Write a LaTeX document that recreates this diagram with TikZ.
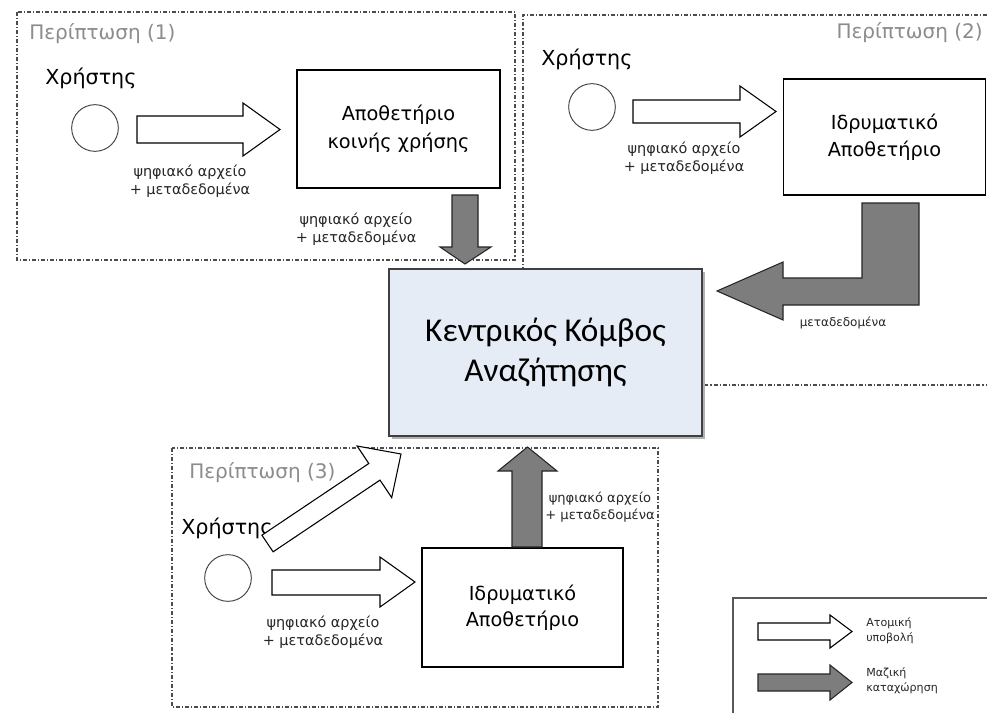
\documentclass[tikz,border=0pt]{standalone}
\usepackage{fontspec}
\setmainfont{DejaVu Sans}
\newfontfamily\cfont{Carlito}
\definecolor{hubfill}{RGB}{230,236,246}
\definecolor{arrgray}{RGB}{125,125,125}
\begin{document}
\begin{tikzpicture}[x=0.75pt,y=-0.75pt,
  casebox/.style={draw=black!70, line width=0.8pt, dash pattern=on 3pt off 1.5pt on 0.8pt off 1.5pt},
  casetitle/.style={text=black!45, font=\fontsize{15}{18}\selectfont, inner sep=0},
  user/.style={font=\fontsize{15.5}{18}\selectfont, inner sep=0},
  person/.style={circle, draw=black!75, line width=0.7pt, minimum size=35pt, inner sep=0},
  repo/.style={draw=black, line width=1pt, fill=white, align=center, font=\fontsize{14.5}{21}\selectfont},
  central/.style={draw=black!75, line width=1pt, fill=hubfill, align=center, font=\cfont\fontsize{25}{29.5}\selectfont},
  lbl/.style={align=center, font=\fontsize{10.8}{13.5}\selectfont, text=black!85, inner sep=0},
  legtext/.style={align=left, anchor=west, font=\fontsize{8.3}{11.5}\selectfont, text=black!85, inner sep=0},
  warrow/.style={draw=black, line width=0.8pt, fill=white, line join=miter},
  garrow/.style={draw=black!85, line width=0.8pt, fill=arrgray, line join=miter}
]
\useasboundingbox (0,0) rectangle (987,713);
\fill[white] (0,0) rectangle (987,713);

% case frames
\draw[casebox] (17,12) rectangle (515,260);
\draw[casebox] (987,15) -- (523,15) -- (523,385) -- (987,385);
\draw[casebox] (172,448) rectangle (658,707);

% central node
\fill[black!30] (392,272) rectangle (705,439);
\node[central, minimum width=234.75pt, minimum height=125.25pt] (hub) at (545.5,352.5) {Κεντρικός Κόμβος\\Αναζήτησης};

% titles and users
\node[casetitle, anchor=west] (t1) at (29,34) {Περίπτωση (1)};
\node[casetitle, anchor=east] (t2) at (983,33) {Περίπτωση (2)};
\node[casetitle, anchor=west] (t3) at (189,473) {Περίπτωση (3)};
\node[user, anchor=west] (x1) at (45,78) {Χρήστης};
\node[user, anchor=west] (x2) at (541,59) {Χρήστης};
\node[user, anchor=west] (x3) at (181,528) {Χρήστης};

\node[person] (u1) at (95,128) {};
\node[person] (u2) at (592,107) {};
\node[person] (u3) at (228,578) {};

% repositories
\node[repo, minimum width=152.25pt, minimum height=88.5pt] (r1) at (398.5,129) {Αποθετήριο\\κοινής χρήσης};
\node[repo, minimum width=151.5pt, minimum height=87pt, font=\fontsize{14.5}{20}\selectfont] (r2) at (884.5,137) {Ιδρυματικό\\Αποθετήριο};
\node[repo, minimum width=150.75pt, minimum height=89.25pt, font=\fontsize{14.5}{19.5}\selectfont] (r3) at (522.5,607.5) {Ιδρυματικό\\Αποθετήριο};

% labels
\node[lbl] (l1) at (190,181) {ψηφιακό αρχείο\\+ μεταδεδομένα};
\node[lbl] (l2) at (356,229) {ψηφιακό αρχείο\\+ μεταδεδομένα};
\node[lbl] (l3) at (684,158) {ψηφιακό αρχείο\\+ μεταδεδομένα};
\node[lbl] (l4) at (323,632) {ψηφιακό αρχείο\\+ μεταδεδομένα};
\node[lbl, font=\fontsize{9.8}{13}\selectfont] (l5) at (600,507) {ψηφιακό αρχείο\\+ μεταδεδομένα};
\node[lbl, font=\fontsize{9}{11}\selectfont] (l6) at (843,323) {μεταδεδομένα};

% arrows, case 1
\draw[warrow] (137,116) -- (243,116) -- (243,103) -- (280,129.5) -- (243,156) -- (243,143) -- (137,143) -- cycle;
\draw[garrow] (452,195) -- (478,195) -- (478,247) -- (491,247) -- (465,264) -- (440,247) -- (452,247) -- cycle;
% arrows, case 2
\draw[warrow] (633,100) -- (740,100) -- (740,86) -- (776,111.5) -- (740,137) -- (740,123) -- (633,123) -- cycle;
\draw[garrow] (862,203) -- (919,203) -- (919,305) -- (783,305) -- (783,320) -- (717,291) -- (783,262) -- (783,278) -- (862,278) -- cycle;
% arrows, case 3
\draw[warrow] (272,570) -- (380,570) -- (380,557) -- (415,582) -- (380,607) -- (380,595) -- (272,595) -- cycle;
\draw[garrow] (512,547) -- (512,471) -- (498,471) -- (527.5,447) -- (557,471) -- (542,471) -- (542,547) -- cycle;
\draw[warrow] (261.9,535.2) -- (368.8,463.5) -- (357.1,446) -- (401,454) -- (391.7,497.6) -- (380,480.1) -- (273.1,551.8) -- cycle;

% legend
\draw[draw=black!65, line width=0.8pt] (987,598) -- (733,598) -- (733,713);
\draw[warrow] (758,623) -- (830,623) -- (830,615) -- (852,631.5) -- (830,648) -- (830,640) -- (758,640) -- cycle;
\draw[garrow] (758,674) -- (830,674) -- (830,665) -- (852,682.5) -- (830,700) -- (830,691) -- (758,691) -- cycle;
\node[legtext] (g1) at (866,631) {Ατομική\\υποβολή};
\node[legtext] (g2) at (866,681) {Μαζική\\καταχώρηση};
\end{tikzpicture}
\end{document}
